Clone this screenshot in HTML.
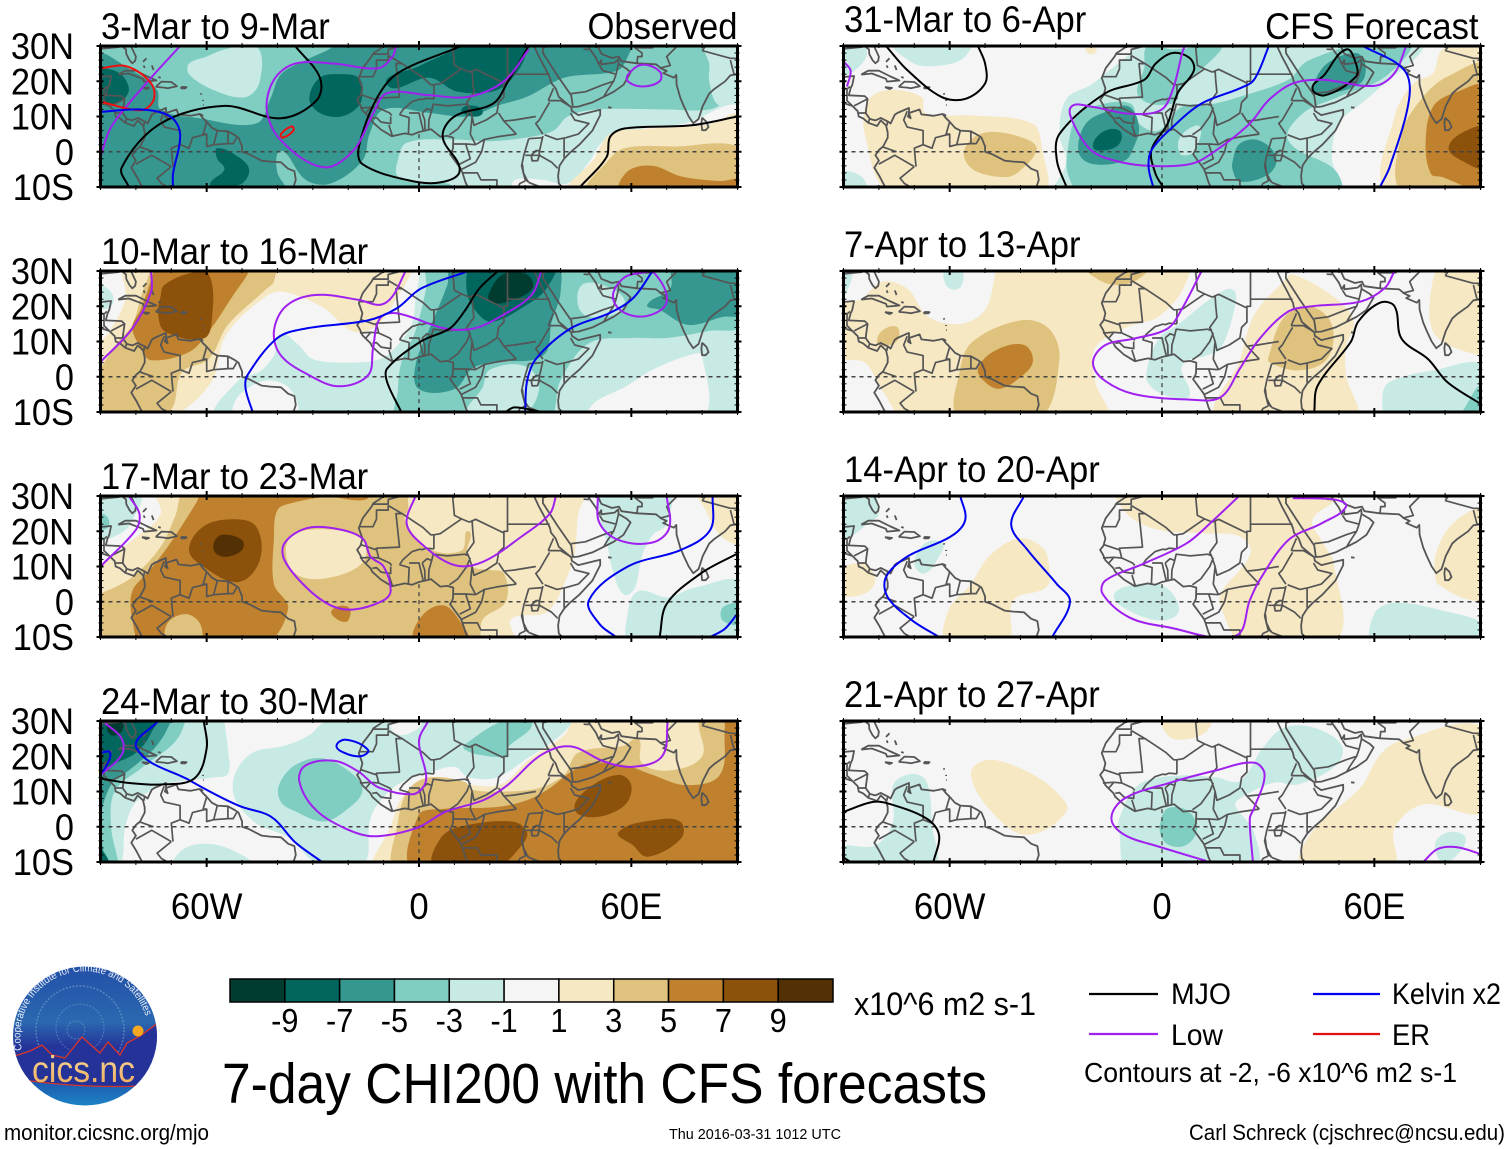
<!DOCTYPE html>
<html>
<head>
<meta charset="utf-8">
<title>7-day CHI200 with CFS forecasts</title>
<style>
html,body{margin:0;padding:0;background:#fff;}
svg{display:block;}
text{font-family:"Liberation Sans",sans-serif;fill:#000;}
</style>
</head>
<body>
<svg id="chart" xmlns="http://www.w3.org/2000/svg" width="1510" height="1149" viewBox="0 0 1510 1149">
<defs>
<linearGradient id="logoSky" x1="0" y1="0" x2="0" y2="1">
<stop offset="0" stop-color="#2350a8"/><stop offset="0.4" stop-color="#2a68b0"/><stop offset="0.58" stop-color="#253399"/><stop offset="0.74" stop-color="#1f45a4"/><stop offset="1" stop-color="#1c82c4"/>
</linearGradient>
<linearGradient id="logoGold" x1="0" y1="0" x2="0" y2="1">
<stop offset="0" stop-color="#f9dc9c"/><stop offset="1" stop-color="#eda957"/>
</linearGradient>
<clipPath id="logoClip"><ellipse cx="85" cy="1036" rx="72" ry="69.5"/></clipPath>
<path id="logoArc" d="M22 1050 A64 64 0 0 1 147 1021"/>
</defs>
<g id="panels"></g>
<g id="colorbar"></g>
<text x="854" y="1015" font-size="32" textLength="182" lengthAdjust="spacingAndGlyphs">x10^6 m2 s-1</text>
<text x="222" y="1103" font-size="57" textLength="765" lengthAdjust="spacingAndGlyphs">7-day CHI200 with CFS forecasts</text>
<g>
<line x1="1089" y1="994" x2="1158" y2="994" stroke="#000" stroke-width="2.2"/>
<text x="1171" y="1004" font-size="30" textLength="60" lengthAdjust="spacingAndGlyphs">MJO</text>
<line x1="1313" y1="994" x2="1380" y2="994" stroke="#0000f0" stroke-width="2.2"/>
<text x="1392" y="1004" font-size="30" textLength="109" lengthAdjust="spacingAndGlyphs">Kelvin x2</text>
<line x1="1089" y1="1034" x2="1158" y2="1034" stroke="#a020f0" stroke-width="2.2"/>
<text x="1171" y="1045" font-size="30" textLength="52" lengthAdjust="spacingAndGlyphs">Low</text>
<line x1="1313" y1="1034" x2="1380" y2="1034" stroke="#e01010" stroke-width="2.2"/>
<text x="1392" y="1045" font-size="30" textLength="38" lengthAdjust="spacingAndGlyphs">ER</text>
<text x="1084" y="1082" font-size="28" textLength="373" lengthAdjust="spacingAndGlyphs">Contours at -2, -6 x10^6 m2 s-1</text>
</g>
<text x="4" y="1140" font-size="22" textLength="205" lengthAdjust="spacingAndGlyphs">monitor.cicsnc.org/mjo</text>
<text x="669" y="1139" font-size="15" textLength="172" lengthAdjust="spacingAndGlyphs">Thu 2016-03-31 1012 UTC</text>
<text x="1189" y="1140" font-size="22" textLength="316" lengthAdjust="spacingAndGlyphs">Carl Schreck (cjschrec@ncsu.edu)</text>
<g>
<ellipse cx="85" cy="1036" rx="72" ry="69.5" fill="url(#logoSky)"/>
<g clip-path="url(#logoClip)" fill="none" stroke="#7fa6d2" stroke-dasharray="2 1.5" stroke-opacity="0.55">
<circle cx="76" cy="1030" r="9"/><circle cx="80" cy="1028" r="24"/><circle cx="80" cy="1030" r="44" stroke-width="1.5"/>
</g>
<path clip-path="url(#logoClip)" d="M12 1056 L18 1055 L30 1051 L42 1045 L52 1055 L65 1058 L82 1037 L100 1053 L108 1042 L120 1055 L127 1043 L140 1036 L158 1023 L160 1085 Q85 1090 10 1078 Z" fill="#253399" stroke="#d8342a" stroke-width="1.3"/>
<circle cx="138" cy="1031" r="5.5" fill="#f7a823"/>
<text x="32" y="1082" font-size="37" style="fill:url(#logoGold)" textLength="103" lengthAdjust="spacingAndGlyphs">cics.nc</text>
<text font-size="10.5" style="fill:#e8eef8"><textPath href="#logoArc" textLength="196" lengthAdjust="spacingAndGlyphs">Cooperative Institute for Climate and Satellites</textPath></text>
</g>
</svg>
<script>
// ---------- axis data ----------
const lonLabels = [[-60, '60W'], [0, '0'], [60, '60E']];
const latLabels = [[30, '30N'], [20, '20N'], [10, '10N'], [0, '0'], [-10, '10S']];
const lonMinorTicks = [-90, -80, -70, -50, -40, -30, -20, -10, 10, 20, 30, 40, 50, 70, 80, 90];
const latMinorTicks = [28, 26, 24, 22, 18, 16, 14, 12, 8, 6, 4, 2, -2, -4, -6, -8];
const colorLevels = [-9, -7, -5, -3, -1, 1, 3, 5, 7, 9];
const bandValues = [-10, -8, -6, -4, -2, 0, 2, 4, 6, 8, 10];
const bandColors = ['#003c30', '#01665e', '#35978f', '#80cdc1', '#c7eae5', '#f5f5f5', '#f6e8c3', '#dfc27d', '#bf812d', '#8c510a', '#543005'];
const leftTitles = ['3-Mar to 9-Mar', '10-Mar to 16-Mar', '17-Mar to 23-Mar', '24-Mar to 30-Mar'];
const rightTitles = ['31-Mar to 6-Apr', '7-Apr to 13-Apr', '14-Apr to 20-Apr', '21-Apr to 27-Apr'];
const panelBackground = [-4, 0, 0, 0, 0, 0, 0, 0];

// ---------- base map in lon,lat ----------
const coastlines = [
 [-9.8,30,-12.9,27.9,-13.4,27,-15.9,23.7,-17,20.9,-16,18,-16.5,16,-17.5,14.7,-16.7,13.4,-16,11.8,-13.7,9.5,-13.2,8.5,-10.8,6.3,-7.7,4.4,-4,5.2,-2,4.8,0,5.6,3.4,6.4,6,4.3,8,4.5,9.7,4,9.6,1,9.4,0.4,8.8,-0.7,11.8,-4.8,12.3,-6,13.2,-8.8,13.8,-10],
 [32.5,30,33.8,27.2,35.5,24,37,21,37.3,19.6,38.6,18,39.5,15.6,43,12.6,43.2,11.6,45,10.4,51.2,11.9,51.2,10.4,49,6,45.3,2,42.5,-0.4,41,-2,39.7,-4,39.3,-6.8,39.5,-9,40.5,-10],
 [35,29.5,35,28,39.2,21.5,43,16,43.5,12.7,45,12.8,49,14,52.2,15.6,55,17,57.8,19,59.8,22.5,58.6,23.6,56.4,24.9,56.3,26.2,55.3,25.3,51.5,24.8,51.5,26,50.8,24.8,50,26.7,48,29.5,48.6,30],
 [50.5,30,51.5,27.8,54.5,26.6,56.5,27,57.2,25.7,61.5,25.1,67,24.8,68.5,23.6,70,22.9,69,22.3,72,21,72.7,21.8,72.8,19,73.8,15.4,74.8,13,76.2,10,77.5,8.1,79,9.3,80.2,13,82,16.5,83.3,17.7,86.5,20,88,21.7,90,22],
 [80,9.7,81.2,8.5,81.8,7,81,6.1,80,6.1,79.8,8,80,9.7],
 [31.7,-1,33,0.3,34,0.3,34,-1,33.5,-2.5,32,-2.6,31.7,-1],
 [29.2,-3.5,29.5,-6,30.5,-8,31,-8.7],
 [53.4,12.6,54.4,12.5],
 [-90,29.2,-85,29.7,-84,30,-82.8,29,-82.7,27.7,-81.8,26,-81,25.1,-80.2,25.8,-80,27,-81.2,29.6,-81.4,30],
 [-85,21.9,-83,23,-80,23,-77,21.5,-74.2,20.2,-77.7,19.9,-78,20.7,-82,22.2,-85,21.9],
 [-74.4,18.4,-72.8,19.9,-70,19.8,-68.4,18.6,-71,18,-72,18.2,-74.4,18.4],
 [-78.3,18.3,-76.3,18.1,-77,17.8,-78.3,18.3],
 [-67.2,18.4,-65.7,18.3,-66,18,-67.2,18,-67.2,18.4],
 [-78,25.5,-77,26.5],[-77.8,24.5,-77.5,23.8],[-75.5,24.5,-75,23.2],[-73.7,21.2,-73,21],
 [-61.7,16.6,-61.5,16.2],[-61,14.7,-61,14.4],[-61,13.3,-60.8,13.2],[-61.8,10.7,-61,10.2],
 [-90,21.2,-87,21.5,-87.5,19,-88,18,-88.5,16,-84,15.8,-83.2,15,-83.6,12,-83.7,10.9,-82.5,9.3,-81,8.9,-79.5,9.6,-77.5,8.6,-76.7,8,-75.5,10.5,-74.8,11,-72.5,12,-71.5,12.4,-71.5,11,-71.8,10,-71,9.5,-71.5,11,-68.5,12,-68,10.6,-64.5,10.2,-62,10.7,-61,9.5,-60,8.5,-58.5,6.8,-57,6,-54,5.8,-52,4.7,-51,4,-50,1.5,-50,0,-48,-0.7,-44.5,-2.5,-42,-2.8,-39,-3,-37,-4.8,-35.2,-5.5,-34.8,-8,-35.5,-10],
 [-90,13.8,-87.5,13,-86,11.5,-85.7,10,-84.5,9.5,-83,8.2,-80.5,7.3,-79.5,8.9,-78,7.5,-77.5,5.5,-77.5,4,-78.8,1.5,-80,0.5,-81,-1,-80,-2.5,-81.3,-4.5,-79.8,-7,-78.5,-9.5,-78,-10]
];
const borders = [
 [-72,11.5,-73,9,-72,7,-67.5,6,-67.5,2,-70,1,-69.5,-4.2],[-60,8.5,-61,5,-60,5,-64,4,-65,1,-67.5,2],[-57,6,-58,2],[-54,5.8,-54,2.3,-58,2,-60,1.5,-60,5],[-51.5,4,-52.5,2.3,-54,2.3],
 [-80,-3.5,-75.5,-1,-70,-4.2],[-79,1.4,-75,0],[-70,-4.2,-74,-7.5,-72.8,-9,-71,-10],[-70,-10,-65,-10],
 [-89,17.8,-89,14.5,-87.5,13],[-83.2,15,-87,13],[-83.6,11,-85.7,11],[-82.6,9.5,-83,8.2],[-77.5,8.6,-77.8,7.3],[-90,17.8,-89,17.8,-88.2,18.5],
 [-13,27.7,-8.7,27.7,-8.7,29,-5,30],[-8.7,27.3,-8.7,26,-12,26,-12,23.5,-13,21.3,-17,21.3],[-8.7,27.3,-4.8,25,-6.5,25,-5.5,15.5,-12,15.2,-12.3,14.8,-16.5,16.2],
 [-4.8,25,1.2,21,3.3,19,4.2,19,4.2,15],[9.5,30,10,24.5,12,23.5,14.2,22.6],[4.2,19,6,19.3,12,23.5],[14.2,22.6,16,23.4,24,19.5,24,20,25,20,25,22],[25,30,25,22,36.9,22],
 [24,19.5,24,15.5,22.5,14,22,11,19,9,15.5,7.5,15,10,14,13,13.5,14,15.5,16.8,15.2,20,15,23],
 [14,13,13,13.5,8,13,4,13.5,3.6,11.7,2.8,9,2.7,6.4],[4.2,15,2,15.2,1,14.8,0.2,14.9,-2,14.2,-4.5,12,-5.5,10.5],[-11.4,12.4,-8.3,11,-7.7,10.3],[-12,15,-11.4,12.4,-13.7,12.6,-16.7,12.4],[-13.7,12.5,-15,11],
 [-13.2,9.5,-12,9.7,-10.7,8.4,-8,8,-8,10],[-8.5,7.6,-7.5,4.4],[-5.5,10.5,-2.8,9.7,-3,5],[-2.8,11,0,11,0.7,8,1.2,6],[0.9,11,1.6,9,1.7,6.2],[0.9,11,2.3,12.2,3.6,11.7],
 [8.6,4.8,11,6.5,13.5,10,14.5,12.5],[15,10,14.5,5,16,2],[9.8,2.2,13.3,2.2,16,2],[13.2,2.2,14.5,-2,11.5,-3.5],[16,2,18.5,3.5,22,4.2,27.5,5],[22.5,11,24,8.7,27.5,5],[24,8.7,27,9,33,10],
 [36.9,14,36,12.5,34,9,33,8,35,5],[36.5,14.5,38,18],[36.5,14.5,40,14.5,43,12.7],[35.5,4.8,39,3.5,41.5,4],[41.5,4,45,5,48,8,44,9,42.8,11],[41,-1.7,41,3.9],[34,0,35,4.5],[31,3.7,35,4],[31,3.7,29.6,-1,29,-4,30,-8,31,-8.5],
 [34,-1,37.5,-3,39.2,-4.7],[30,-1,34,-1],[12,-5,13,-4.5,16,-3,17.7,0,18.5,3.5],[12.3,-6,16.5,-6,17.5,-8,22,-8,22,-10],[28,-10,28.5,-9,30,-8.3],[31,-8.7,33,-9.5,34.5,-10],
 [43,16.5,47,17,52,19,55,20,55.7,22,52,23,51,24.5],[52.2,15.6,53,17,55,20],[56.4,25,55.7,22],[34.9,29.5,37,30],[46.5,29.1,48,29],
 [61.6,25,61.8,27,63,27,63,28,61,29.5,66,29.5,66.5,30],[68,23.7,71,24.5,70,27,73,30],[80,28.7,88,26.5],[88,26,88.5,24,89,22],[81,30,80,28.7],[88,26.5,90,26.5]
];

// ---------- shading per panel: [band value, lon,lat pairs] ----------
const shadeP1 = [
 [-6,[-92,27,-81,23,-74,17.5,-73,12,-62,9.5,-46,8,-42,15,-39,22,-32,26,-24,30,-24,32,60,32,59,27,56,23,41,21,30.5,15.6,22,13,14,10,3,11,-10,12,-14,5,-16,-2.5,-25,-9,-32,-8,-38,0,-40,-0.5,-40,-6,-38,-11,-92,-11]],
 [-2,[-55,29,-46,30,-45,20,-49,15.5,-58,17.5,-65,22,-65,25,-60,27]],
 [-8,[-91,23,-85,22.5,-82,18,-84,14.5,-90,13.5,-92,18]],
 [-8,[-31,15,-28,21,-22,22,-17,21,-16,17,-17,13,-22,10,-28,11]],
 [-8,[-9,19,0.5,24.5,11,30,11,33,31,33,31,30,28,23,22,17.5,11,17,3,21]],
 [-8,[12,12,16,13,18,11,15,10]],
 [-8,[-57,1,-51,-1.5,-48,-5,-50,-9,-55,-10,-57,-11,-59,-9,-55,-5,-57,-2]],
 [-2,[-6,-2.5,-3.5,2.5,9,3.5,20,3,30,4,38,6,42,10,50,12,70,12,82,12,95,16,95,-12,14,-12,8,-9,0,-9,-6,-7]],
 [-2,[80,32,80,30,82,25,82,20,85,13,92,15,92,32]],
 [0,[27,-11,27,-8,35,-8,42,-9,48,-3,52,3,60,6,75,8,92,12,92,-12]],
 [2,[43,-11,49.5,-2,54,5,64,6.5,81,7.5,92,10,92,-12]],
 [4,[48,-11,53,-3,58,1,72,1.5,92,0.5,92,-12]],
 [6,[57,-11,59,-5.5,66,-4,74,-7,85,-8.3,92,-8,92,-12]]
];
const shadeP2 = [
 [-2,[-57,-11,-51,-1,-45,1.5,-41,6,-39,12,-34,9,-30,5,-20,4,-11,5,-6,9,-2,15,-1,22,0,30,-2,33,95,33,95,-12]],
 [0,[-48,-3,-42,-1,-36,-4,-35,-11,-52,-11,-52,-7]],
 [0,[27,-12,45,-12,50,-7,58,-3,66,2,76,6,80,6,79,-12]],
 [2,[-84,33,-84,30,-83,22,-88,12,-92,8,-92,-12,-70,-11,-58.7,-1.5,-54.6,11.8,-43,23,-37.6,24,-26.7,19.4,-18.5,12.8,-11.7,14.7,-6,22.8,-2,30,-2,33]],
 [4,[-76,33,-76,30,-78.5,23,-81,14.7,-85,10,-90,2.3,-92,-1,-92,-12,-71,-10,-67,1.3,-59.4,5,-54,14.7,-43,25,-41,27,-41,33]],
 [6,[-75,33,-75,30,-78.5,19.4,-81,14,-78.5,8,-75.7,4.7,-65,7,-59.4,12.8,-52.6,23,-48,30,-48,33]],
 [8,[-72,26,-65,29.3,-59.4,29,-58.5,16.6,-60.8,10.9,-71.7,12.8,-73.7,17.5,-73,23]],
 [-2,[-92,26,-87,24,-87,20,-92,20]],
 [-4,[3,33,2,25,-1,13,-5,4,-6,-4,-6,-12,36,-12,40,-1,48,9.5,60,11,70,11,82,13,92,15,92,33]],
 [-2,[46,26,52,26,58,22,56,18,48,17,45,20]],
 [-2,[14,-11,18,-3,20,2,30,3,34,-3,29,-11]],
 [-6,[9.5,32,8,26,3,13.7,-1,3.3,0,-3.5,10,-3.5,15,2.3,21,4.2,35,6,37.5,15.6,40,24,38.5,32]],
 [-6,[64.5,20.4,71,25,72,33,92,33,92,18,86,17,76,14.7,68,19]],
 [-8,[15.5,32,13.5,24.2,17,17.5,21,15.6,30.5,20.4,36,25,38,32]],
 [-10,[19.6,23.2,23.7,29,30.5,29,32,25,25,21.3,20.5,21]]
];
const shadeP3 = [
 [-2,[-92,32,-79,32,-81,23,-85,19,-92,18]],
 [-4,[-91,25,-88,24,-88,21,-91,21]],
 [2,[-75,33,-73,25,-81,17.5,-90,10.4,-92,8,-92,-12,27,-12,26,-5,36,-3,41,5,44,14,45,25,47,33]],
 [4,[-65,33,-69,24,-73,15.6,-81,7,-90,2.3,-92,2,-92,-12,16,-12,18,-5,24.5,0,24,8,20,9,15,10,13.5,14,14,20,12,14.5,3,15,-4,23,-3,27,-5,33]],
 [6,[-60,33,-63,28,-70,17,-76,9,-81,3,-81,-5,-78,-12,-44,-12,-37,-2,-41,5,-41,18,-40,26,-36,28,-26,29.7,-15,29,-14,33]],
 [4,[-71,-11,-71,-6,-66,-3.5,-62,-6,-62,-11]],
 [8,[-65,14.7,-61,21.3,-52.6,23.4,-46,21.3,-45,11.8,-51,5.6,-61,10]],
 [10,[-58,16.6,-55.7,19,-50,17.5,-50,14.7,-54,12.8,-57.4,13.7]],
 [2,[-37.6,14.7,-35,19.4,-24,20.4,-16,17.5,-16,11,-26.7,6.6,-35,8]],
 [6,[-24.7,-2.5,-20,-1.5,-20,-5.3,-22.6,-5.3]],
 [6,[-1,-11,0.5,-4.4,6.7,-1,11.4,-5.3,13.5,-11]],
 [-2,[52,33,51,25,53,17,55,8,58,2,61,4,63,13,66,19,70,22,70,33]],
 [-2,[60,-12,59,-3,62,3,70,1.3,78,4,92,5,92,-12]],
 [-4,[86,-1.5,92,-1,92,-6,86,-5.5]],
 [2,[79,32,81,26,86,18,92,17,92,32]]
];
const shadeP4 = [
 [-2,[-85,-12,-83,0,-80,7,-72,12,-58,14,-54,15,-54,22,-55,30,-55,33,-92,33,-92,-12]],
 [-2,[-52,15,-47,21,-38,23,-31,26,-26,30,-7,31,-8,28,-5,26,0,28,2,31,43,31,40,26,30,19,22,14,14,14,10,17,2,15,-6,12,-12,6,-14,1,-16,-11,-28,-11,-37,-3,-46,1,-52,8]],
 [-2,[-69,-11,-66,-6,-58,-5,-50,-8,-47,-11]],
 [-4,[-39.6,11.8,-35,17.5,-27,19.4,-18.5,14.7,-16,10,-21,4.4,-27,1.5,-35,4.4,-39,7]],
 [-4,[12.8,23.2,23.7,30,32,30,25,22.3,25,20,17,20.4,12.8,22]],
 [-4,[-92,33,-66,33,-66,30,-69,24,-78.5,16.6,-86,10,-87,0,-85,-10,-85,-12,-92,-12]],
 [-6,[-92,33,-70,33,-71,28,-75,22,-82,16,-87,12,-90,2,-89,-8,-88,-12,-92,-12]],
 [-8,[-92,33,-74,33,-76,26,-80,21,-86,18,-92,16]],
 [-8,[-92,-6,-90,-6,-87.5,-12,-92,-12]],
 [-10,[-88,29,-84,29.5,-84,27,-87,26]],
 [2,[-12,-12,-8,0,-5,8,2,14,14,12,23,12,31,19,41,26,46,33,92,33,92,-12]],
 [4,[-6,-12,-6,1,-3,10.5,3,14,13,12.7,15,10.5,25,10,34,11,41,14.7,45,21,58,23,62,25,63,18,71,16,80,20,79,29,80,33,92,33,92,-12]],
 [6,[-1,-12,-0.2,3.2,6,5,22,5.6,30.5,7.5,37,11,43,15.6,48,18,58,17.5,66,14.7,75.5,11.8,85,14.7,86.4,28,87,33,92,33,92,-12]],
 [8,[4.4,-11,6,-3.4,11.4,0,26.4,1.5,30.5,-1.5,29,-5.3,22.4,-11]],
 [8,[44,5,48,11,56.4,14.7,60,11.8,58,6,49.6,2.7]],
 [8,[56.4,-1.5,67.3,2,74,1.3,74,-3.4,64.6,-8.5,60.5,-5.3]]
];
const shadeP5 = [
 [2,[-83,14.5,-77.5,17.5,-68,15.6,-66.8,11,-53,10.3,-36.6,8,-34,1.3,-34,-12,-76,-12,-84,5]],
 [4,[-56,-0.6,-53,4.2,-47,5.6,-37.4,3.2,-35.4,0.4,-40,-5.3,-44,-7.2,-53,-5.3]],
 [2,[-21.5,30,-18.7,30,-19,28,-21,28]],
 [-2,[-76,32,-70,25,-61,24.7,-55.6,27,-54,32]],
 [-2,[-92,32,-85,32,-84,26,-92,22]],
 [-2,[-92,-6,-85,-7,-84,-12,-92,-12]],
 [-2,[-30,-12,-27,-3,-29,5,-27,15,-20,19,-16,22.3,-9,28,-7,33,74,33,73,28,63,19.4,57.6,14.7,50,8,48,-2,50,-12]],
 [-4,[-27,-2.5,-24,10.8,-19,13,-9,13.7,-6.5,8,-1,6,5.7,12.8,15,13.7,22,15.6,35.7,20.4,40,25,44,27,53,30,70,33,64,22,50,15.6,39.7,10.8,35.7,3.2,49,-5.3,50,-12,-23,-12,-26,-8]],
 [-4,[-4,30,3,29,16.6,30,15,27,5.7,18.5,3,13.7,-6.5,15.6,-5,24]],
 [-2,[5,-0.5,5,4,10,7.5,11,5,9,0,7,-1]],
 [-2,[9,15,11,22,14,23.4,16,18,13,14,10,13]],
 [-6,[-23.6,0,-21.5,8,-14.7,11.8,-9.3,12.8,-6.5,7,-8,1.3,-10.6,-2.5,-20,-3.4]],
 [-8,[-19.5,1.3,-16.8,5.6,-12,6,-12,2.3,-16,0.4]],
 [-6,[20,-2.5,22,2.3,27.5,3.2,32.3,-1.5,30.2,-6.3,22,-8.5,20,-5.3]],
 [-6,[42.5,18.5,46.6,25,54.8,28,57.5,24.7,56,19.4,45,16,43,16.6]],
 [2,[64,-12,65.7,10,71,19.4,76.6,22.3,79.3,29,92,32,92,-12]],
 [4,[68.4,-12,67.7,5,73.8,15.6,80.6,21.3,92,24,92,-12]],
 [6,[76,-6.3,74.5,2.3,76.6,12.8,83.4,17,92,18.3,92,-12,86,-10,79.3,-7.2]],
 [8,[81,1.3,86,6,92,6.6,92,-4.2,84.7,-2.5]]
];
const shadeP6 = [
 [2,[-92,20,-85,22,-79,27,-72,25,-66,17,-57,15,-50,19,-47,30,-47,33,7,33,6,25,-1,17,-10,14,-19,8,-19,-1,-16,-12,-72,-12,-79,-4,-84,4,-92,6]],
 [2,[16,-12,22,4.7,26,17.5,34.3,27,37,29,49,22.3,54.2,15.6,52,8.6,52,0.4,54.2,-12]],
 [2,[79.3,32,76,24.2,76.6,12.8,83.4,8,92,7.5,92,32]],
 [4,[-21.5,32,-16,26.6,-8,27,-3.8,32]],
 [4,[-80,12,-77,14.2,-74.5,13.7,-75,10,-80,9]],
 [4,[-57,2.3,-53.5,10,-40,16,-32,13.7,-29,5,-35,-12,-57,-12]],
 [6,[-52,2.3,-47,7.5,-39,9,-36.5,4.2,-40.6,-0.6,-46,-3.4,-50,-1.5]],
 [4,[30.2,6,34.3,16.6,41.8,20,48,14.7,46.6,5,38.4,1.8,30.2,4.2]],
 [-2,[-4.5,0.4,-1,10.8,4.4,14.7,15.3,23.2,20,24.7,20.7,20.4,16.6,8,12.5,6,5.7,3.2,7.8,-5.3,3,-5.8,-2.5,-3.4]],
 [-2,[-61.3,30,-56.6,30,-56.6,26,-58.6,24.7,-61,26]],
 [-2,[-92,32,-87.6,32,-89.6,22.8,-92,21.8]],
 [-2,[62.3,-5.3,64.3,-1.5,76.6,1.8,92,2.8,92,-12,64,-12]],
 [-4,[85.4,-9,92,-2,92,-12,85,-12]]
];
const shadeP7 = [
 [-2,[-92,32,-82.5,32,-80,25,-83,22.3,-88,18.5,-92,18]],
 [2,[-92,8,-85,11,-81,6.6,-84,2.3,-92,2.3]],
 [-2,[-70,11,-67,16.6,-62,16.6,-63,12.8,-67.2,8]],
 [2,[-60.4,-12,-60.4,-2.5,-54,5,-49,12.8,-40.6,18,-34,15.6,-32,10.8,-32.6,4.2,-42,0.4,-44,-12]],
 [2,[-12.7,33,-10,25,-1,20.4,12.5,19.4,22,18.5,25,13.7,16.6,2.3,17,-2.5,23,-12,48.6,-12,48.6,10.8,45,17.5,42.5,23.2,48,28,52,32]],
 [2,[77.2,7,77.2,12.8,80.6,20.4,87.5,26,92,26,92,1.3,86,0.8,78,5]],
 [-2,[-13.6,1.3,-10.6,4.2,-1,5,3.7,1.3,4.4,-3.4,-1,-5.3,-9.3,-2.5]],
 [-2,[60,-12,60,-3.4,65.7,-0.3,79.3,-2.5,92,-6.8,92,-12]]
];
const shadeP8 = [
 [-2,[-92,-6,-81,-5.3,-76,1.5,-76,11.8,-70.6,15,-66.5,12.8,-65,0.6,-65,-12,-92,-12]],
 [2,[-54,15,-49,19,-38,15.6,-30,10,-27,4.4,-38,-2.3,-47.4,3.4]],
 [2,[0,32,1.6,26,5.7,24.7,12.5,27,13.6,32]],
 [-2,[-12,2.5,-6.5,12,4.4,14.5,15.3,14,22,13,28.2,22,34.3,28,42.5,28.2,50.7,23.2,49.3,17.5,38.4,12,31.5,12.5,22,8,20.7,6,26,-1.5,26,-12,-9.3,-12,-12,-2.3]],
 [-4,[-0.4,1.5,1.6,5.2,7,4.7,9.8,0.6,9,-3.2,5.7,-5.6,1.6,-5,-0.4,-2.3]],
 [2,[39.8,-12,42.5,-1.3,56,11,61.6,20.4,67,24.2,92,27.5,92,5,73.8,6.3,65.7,-0.4,65,-12]],
 [-2,[77.2,-6.3,78,-3.2,82,-1.4,85.8,-3.2,83.4,-8,79.3,-10]]
];

// ---------- anomaly contours per panel: [filter kind, lon,lat pairs, closed?] ----------
const contourP1 = [
 ['mjo',[-35,30,-28,21,-29,14.5,-39,9.5,-55,13,-73,8,-84,-4.5,-82,-10]],
 ['mjo',[12,30,-6,22.3,-12,15,-17,1.3,-16,-3.5,-3.5,-8,6,-8.7,11.5,-5.3,6.7,4.2,10,10,21,13.7,25,19.7,31,30]],
 ['mjo',[45.5,-10,53,-1.5,54,4.2,58,6.6,77,7.5,90,10]],
 ['low',[-67.5,30,-77,19.5,-87,7,-90,-1.5]],
 ['low',[-6.5,30,-7.5,27,-11.5,23.7,-24,25,-35,25,-41,20.4,-43,11.8,-39,3.2,-27,-4.4,-18.5,0.4,-13,10.8,-9,16.6,3,16,14,15.6,24,20,31,29]],
 ['low',[59,21.8,63,24.7,68,22.8,68,20,63,18.5,59,20],true],
 ['er',[-90,23.7,-82.5,24.2,-75.7,19.4,-75,14.7,-78.5,11.8,-90,14.2]],
 ['er',[-39,5,-36,7.2,-35.5,6,-38.5,4],true],
 ['kelvin',[-90,11.3,-78.5,12,-70.3,10,-67.5,5,-69.5,-6.3,-69.5,-10]]
];
const contourP2 = [
 ['low',[-75.7,30,-75.7,24.2,-81,13.7,-90,4.2]],
 ['low',[-3.8,30,-7.5,22.8,-11,20.4,-17,21.8,-29.4,23.2,-37.6,20,-41,12.8,-39,6,-31,0.4,-22.6,-2.7,-14.4,0.4,-13,8,-11,16.6,-6.3,18,7.4,13.7,15.5,13.7,23.7,17.5,31.8,23.2,34.6,30]],
 ['low',[57.8,28,63,29.5,66.6,29.3,70,21.3,64.6,17.3,57.8,18.3,54.8,22.8],true],
 ['kelvin',[14,30,0.5,25,-6.3,19.4,-14.4,16,-32,13.7,-40,11,-48.5,0.4,-49,-3.4,-47,-10]],
 ['kelvin',[66,30,60.5,22.3,53.7,18,42.8,13.7,33,5,30.5,-1.5,30,-10]],
 ['mjo',[22.3,30,17,25,12.8,18.5,8.7,13.7,0.5,10,-9,2.3,-9,-1.5,-5,-10]],
 ['mjo',[24.4,-10,27,-8.7,34.6,-10]]
];
const contourP3 = [
 ['low',[-82,30,-79,25,-80,20.4,-90,10]],
 ['low',[-16,18,-24,20.8,-32,20.8,-38,16.6,-38,11.8,-32,4.2,-25,-1,-18.5,-2.2,-10,0.4,-8,3.2,-10,10,-13.7,12.8],true],
 ['low',[-1,30,-3.5,22.3,0.5,16.6,10,10.4,18,11.3,29,18.5,37,25,38.7,30]],
 ['low',[50.5,30,51,22.3,56.4,17.5,66,16.8,70.7,20.9,70,30]],
 ['kelvin',[83,30,82.3,20.4,74,14.7,59,10,48,0.4,51,-6.3,55.7,-10]],
 ['kelvin',[90,-3.4,86.4,-7.7,82.3,-10]],
 ['mjo',[90,13.7,79.6,8,70,-0.6,68,-10]]
];
const contourP4 = [
 ['low',[-88.7,29.4,-84,25,-84,20.4,-90,14.7]],
 ['low',[2.6,30,0,24.4,2,14.8,1.3,11.4,-2,9.2,-11.7,11.3,-17,15.6,-24,18.7,-32.2,17.3,-33.8,12.8,-29.4,5,-21,-0.4,-13,-2.7,-0.8,-0.4,7.4,4.2,18.3,7.6,25,11.8,34.6,20.4,42.8,22.8,52.3,18.5,60.5,17,68.7,20,70.3,30]],
 ['kelvin',[-73.7,30,-79.8,22.3,-64.9,13.2,-51,6,-41.7,2.8,-35,-4.4,-27.4,-10]],
 ['kelvin',[-23.3,23,-20.6,24.7,-14.4,21.8,-16.5,20,-21.2,21],true],
 ['kelvin',[-90,21,-87.3,21,-88.7,16.6,-90,15]],
 ['mjo',[-60.8,30,-60,22.3,-63.5,13.7,-73,12,-82.6,12.5,-90,13.7]]
];
const contourP5 = [
 ['mjo',[-78,30,-72,23.2,-62.4,15.6,-55.6,15,-50,19.4,-50,25,-52,30]],
 ['mjo',[-27,-10,-29.7,-2.5,-29,5,-16,16.6,-5,20.4,-1.8,25,3,28,7.8,26.6,9,23,4.4,16.6,1.6,8,-3,0.4,-1.8,-6.3,0.3,-10]],
 ['mjo',[42.5,18,45.9,21.8,52,29,54.8,25,54.8,21.3,46,16],true],
 ['low',[-90,25.6,-88,23,-89,18.5]],
 ['low',[6.4,30,5.7,28,3,17.5,-0.4,11.8,-9.3,10.8,-20,12.8,-25.6,12.8,-25,8,-20,0.4,-13.4,-2.5,-3.8,-4,8.4,-3.4,15.3,0.4,24.8,8,30.2,14.7,37,19.4,45.2,20.4,60.2,18.7,65.7,22.3,69,30]],
 ['kelvin',[30.2,30,26,20.4,22,18,11.2,13.7,3,7,-3,0.4,-3.8,-4.4,-2.5,-10]],
 ['kelvin',[56.8,30,68.4,23.2,69.8,14.7,64.3,-4.4,61.6,-10]]
];
const contourP6 = [
 ['low',[11.2,30,5.7,19.4,1.6,13.7,-8,10.8,-16,9,-19.5,4.2,-16.8,-0.6,-8,-4.9,8.4,-6.5,16.6,-5.8,22,2.3,27.6,10.8,35.7,18.5,42.5,20,56,21.3,63,25.2,65.7,30]],
 ['mjo',[43,-10,44,-2.5,53.4,10,55.4,15.6,61.6,21,65.7,20,67.7,10.8,75.2,5,80.6,-1.5,90,-7.7]]
];
const contourP7 = [
 ['kelvin',[-57,30,-55.6,23.2,-59.7,18.5,-72,12.8,-78,7,-77.5,1.3,-70.6,-5.3,-63,-10]],
 ['kelvin',[-39,30,-42.6,21.8,-38,14.7,-29.7,5,-26,0,-31,-10]],
 ['low',[21.8,30,14.6,23.2,7,16.6,-5.2,10.8,-16,6,-16.8,2.3,-9.3,-4.4,1.6,-7.2,20.7,-9.7,24.8,0.4,27.5,6,35.7,17.5,45.2,22.3,52,27,48.6,29,37,29.4]]
];
const contourP8 = [
 ['low',[73.8,-10,77.9,-6.3,83.4,-5.8,90,-7.7]],
 ['low',[12.5,-9.7,-1,-5.6,-10.6,-2.3,-14.3,2.4,-10.6,8,1.6,12.3,15.3,16,26,18.2,29,14.7,26,5.2,24.8,2.3,25.7,-10]],
 ['mjo',[-90,4.2,-82,7,-77.4,6.6,-66.5,2.3,-63,-2.3,-64.6,-10]],
 ['mjo',[-90,-8.7,-88,-10]]
];
const allShades = [shadeP1, shadeP2, shadeP3, shadeP4, shadeP5, shadeP6, shadeP7, shadeP8];
const allContours = [contourP1, contourP2, contourP3, contourP4, contourP5, contourP6, contourP7, contourP8];
const contourColors = {mjo: '#000000', kelvin: '#0000f0', low: '#a020f0', er: '#f01010'};

// ---------- layout ----------
const NS = 'http://www.w3.org/2000/svg';
const PANEL_W = 637, PANEL_H = 141, ROW_STEP = 225, FIRST_TOP = 46;
const COL_X = [100.5, 843.5];

function mk(parent, tag, attrs, txt) {
  const el = document.createElementNS(NS, tag);
  for (const k in attrs) el.setAttribute(k, attrs[k]);
  if (txt !== undefined) el.textContent = txt;
  parent.appendChild(el);
  return el;
}
// Liberation Sans is slightly wider than the plot font: narrow the glyphs to match.
function condense(el, ratio) {
  el.setAttribute('textLength', (el.getComputedTextLength() * ratio).toFixed(1));
  el.setAttribute('lengthAdjust', 'spacingAndGlyphs');
}
function bandColor(v) { return bandColors[bandValues.indexOf(v)]; }
function toPoints(flat, xs, ys) {
  const out = [];
  for (let i = 0; i < flat.length; i += 2) out.push([xs(flat[i]), ys(flat[i + 1])]);
  return out;
}
function smoothPath(p, closed) {
  const n = p.length;
  const at = i => closed ? p[(i + n) % n] : p[Math.max(0, Math.min(n - 1, i))];
  const dir = i => {
    const a = at(i - 1), b = at(i + 1);
    const dx = b[0] - a[0], dy = b[1] - a[1], L = Math.hypot(dx, dy) || 1;
    return [dx / L, dy / L];
  };
  let d = 'M' + p[0][0].toFixed(1) + ' ' + p[0][1].toFixed(1);
  const segs = closed ? n : n - 1;
  for (let i = 0; i < segs; i++) {
    const a = at(i), b = at(i + 1), da = dir(i), db = dir(i + 1);
    const L = Math.hypot(b[0] - a[0], b[1] - a[1]) * 0.33;
    d += 'C' + (a[0] + da[0] * L).toFixed(1) + ' ' + (a[1] + da[1] * L).toFixed(1) + ' ' +
         (b[0] - db[0] * L).toFixed(1) + ' ' + (b[1] - db[1] * L).toFixed(1) + ' ' +
         b[0].toFixed(1) + ' ' + b[1].toFixed(1);
  }
  return d + (closed ? 'Z' : '');
}
function linePath(lists, xs, ys) {
  let d = '';
  lists.forEach(flat => {
    toPoints(flat, xs, ys).forEach((q, i) => { d += (i ? 'L' : 'M') + q[0].toFixed(1) + ' ' + q[1].toFixed(1); });
  });
  return d;
}

function drawPanel(index, col, row, title) {
  const x0 = COL_X[col], top = FIRST_TOP + row * ROW_STEP;
  const xs = lon => x0 + (lon + 90) * PANEL_W / 180;
  const ys = lat => top + (30 - lat) * PANEL_H / 40;
  const root = document.getElementById('panels');
  const g = mk(root, 'g', {});
  
  

  const clipId = 'clip' + index;
  const defs = mk(g, 'clipPath', {id: clipId});
  mk(defs, 'rect', {x: x0, y: top, width: PANEL_W, height: PANEL_H});

  const t = mk(g, 'text', {x: x0 + 0.5, y: (col === 0 ? 39 : 32) + row * ROW_STEP, 'font-size': 37}, title);
  
  
  condense(t, 0.935);

  const body = mk(g, 'g', {'clip-path': 'url(#' + clipId + ')'});
  const bg = mk(body, 'rect', {x: x0, y: top, width: PANEL_W, height: PANEL_H, fill: bandColor(panelBackground[index])});
  
  

  allShades[index].forEach(s => {
    const shape = mk(body, 'path', {d: smoothPath(toPoints(s[1], xs, ys), true), fill: bandColor(s[0])});
    
    
  });

  const coast = mk(body, 'path', {d: linePath(coastlines, xs, ys), fill: 'none', stroke: '#555', 'stroke-width': 1.8, 'stroke-linejoin': 'round'});
  
  
  const bord = mk(body, 'path', {d: linePath(borders, xs, ys), fill: 'none', stroke: '#555', 'stroke-width': 1.7, 'stroke-linejoin': 'round'});
  
  

  const eq = mk(body, 'line', {x1: x0, x2: x0 + PANEL_W, y1: ys(0), y2: ys(0), stroke: '#444', 'stroke-width': 1.5, 'stroke-dasharray': '4 4'});
  
  
  const pm = mk(body, 'line', {x1: xs(0), x2: xs(0), y1: ys(5), y2: ys(-10), stroke: '#444', 'stroke-width': 1.3, 'stroke-dasharray': '4 4'});
  
  

  allContours[index].forEach(c => {
    const line = mk(body, 'path', {d: smoothPath(toPoints(c[1], xs, ys), !!c[2]), fill: 'none', stroke: contourColors[c[0]], 'stroke-width': 2});
    
    
  });

  const frame = mk(g, 'rect', {x: x0, y: top, width: PANEL_W, height: PANEL_H, fill: 'none', stroke: '#000', 'stroke-width': 3});
  
  

  const ticks = mk(g, 'g', {stroke: '#000'});
  
  
  lonLabels.forEach(l => {
    mk(ticks, 'line', {x1: xs(l[0]), x2: xs(l[0]), y1: top - 5, y2: top + 4, 'stroke-width': 2});
    mk(ticks, 'line', {x1: xs(l[0]), x2: xs(l[0]), y1: top + PANEL_H - 4, y2: top + PANEL_H + 5, 'stroke-width': 2});
  });
  lonMinorTicks.forEach(v => {
    mk(ticks, 'line', {x1: xs(v), x2: xs(v), y1: top - 3, y2: top + 2, 'stroke-width': 1});
    mk(ticks, 'line', {x1: xs(v), x2: xs(v), y1: top + PANEL_H - 2, y2: top + PANEL_H + 3, 'stroke-width': 1});
  });
  latLabels.forEach(l => {
    mk(ticks, 'line', {x1: x0 - 4, x2: x0 + 3, y1: ys(l[0]), y2: ys(l[0]), 'stroke-width': 2});
    mk(ticks, 'line', {x1: x0 + PANEL_W - 3, x2: x0 + PANEL_W + 4, y1: ys(l[0]), y2: ys(l[0]), 'stroke-width': 2});
  });
  latMinorTicks.forEach(v => {
    mk(ticks, 'line', {x1: x0 - 2, x2: x0 + 3, y1: ys(v), y2: ys(v), 'stroke-width': 1});
    mk(ticks, 'line', {x1: x0 + PANEL_W - 3, x2: x0 + PANEL_W + 2, y1: ys(v), y2: ys(v), 'stroke-width': 1});
  });

  if (col === 0) {
    latLabels.forEach(l => {
      const lab = mk(g, 'text', {x: 74, y: ys(l[0]) + 13, 'text-anchor': 'end', 'font-size': 37}, l[1]);
      
      
      condense(lab, 0.93);
    });
  }
  if (row === 3) {
    lonLabels.forEach(l => {
      const lab = mk(g, 'text', {x: xs(l[0]), y: 919, 'text-anchor': 'middle', 'font-size': 37}, l[1]);
      
      
      condense(lab, 0.94);
    });
  }
}

leftTitles.forEach((t, r) => drawPanel(r, 0, r, t));
rightTitles.forEach((t, r) => drawPanel(r + 4, 1, r, t));

const obs = mk(document.getElementById('panels'), 'text', {x: 737.5, y: 39, 'text-anchor': 'end', 'font-size': 37}, 'Observed');


condense(obs, 0.935);
const fc = mk(document.getElementById('panels'), 'text', {x: 1478.5, y: 39, 'text-anchor': 'end', 'font-size': 37}, 'CFS Forecast');


condense(fc, 0.935);

// ---------- colorbar ----------
const cb = document.getElementById('colorbar');
const CB_X = 230, CB_W = 603, CB_Y = 979, CB_H = 23;
const cbStep = CB_W / bandColors.length;
bandColors.forEach((c, i) => {
  const box = mk(cb, 'rect', {x: CB_X + i * cbStep, y: CB_Y, width: cbStep, height: CB_H, fill: c, stroke: '#000', 'stroke-width': 1.5});
  
  
});
colorLevels.forEach((v, i) => {
  const lab = mk(cb, 'text', {x: CB_X + (i + 1) * cbStep, y: 1032, 'text-anchor': 'middle', 'font-size': 33}, String(v));
  
  
  condense(lab, 0.93);
});
</script>
</body>
</html>
